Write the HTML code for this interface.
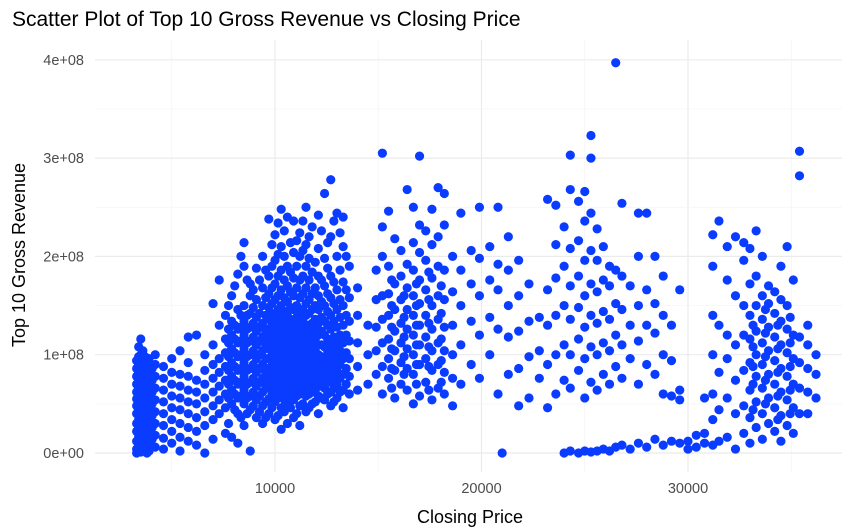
<!DOCTYPE html>
<html><head><meta charset="utf-8"><style>
body{margin:0;background:#fff;}
svg{display:block;font-family:"Liberation Sans",sans-serif;}
</style></head><body>
<svg id="chart" width="868" height="532">
<text x="12" y="26" font-size="21" fill="#000">Scatter Plot of Top 10 Gross Revenue vs Closing Price</text>
<g id="grid"></g>
<g id="axes"></g>
<g id="pts"></g>
<text x="470" y="523" font-size="18" text-anchor="middle" fill="#000">Closing Price</text>
<text transform="translate(25,255) rotate(-90)" font-size="18" text-anchor="middle" fill="#000">Top 10 Gross Revenue</text>
</svg>
<script>
// closing price in thousands, revenue in millions
const xTicks = [10000, 20000, 30000];
const yTicks = [0, 100, 200, 300, 400];
const yTickLabels = ["0e+00","1e+08","2e+08","3e+08","4e+08"];
const columns = [
[3.3,[0,4,12,22,30,40,48,55,62,70,78,86,94]],
[3.4,[2,8,17,26,34,44,52,59,66,74,82,90,98,108]],
[3.5,[1,8,18,26,35,44,52,60,68,76,84,92,100,116]],
[3.6,[5,12,20,29,38,46,54,62,70,78,86,94,104]],
[3.7,[3,14,24,33,42,50,58,66,74,82,90,98]],
[3.8,[0,7,16,26,36,45,53,61,69,77,85,93]],
[3.9,[2,10,20,30,40,48,56,64,72,80,88,96]],
[4.05,[14,26,38,50,62,74,86]],
[4.2,[6,18,30,42,54,66,78,90,100]],
[4.6,[4,15,28,40,52,64,76,88]],
[5.0,[10,22,34,46,58,70,82,96]],
[5.4,[2,16,30,44,56,68,80,104]],
[5.8,[12,26,40,52,64,78,92,118]],
[6.2,[8,22,36,50,62,74,120]],
[6.6,[0,28,42,56,70,84,100]],
[7.0,[14,34,48,62,76,90,110,152]],
[7.3,[40,54,68,82,96,130,176]],
[7.6,[20,46,60,74,88,102,116,140]],
[7.75,[30,56,70,84,98,112,126,150]],
[7.9,[16,50,64,78,92,106,120,134,160]],
[8.05,[44,60,74,88,102,116,130,170]],
[8.2,[10,40,56,70,84,98,112,126,146,182]],
[8.35,[36,58,72,86,100,114,128,140,200]],
[8.5,[28,50,64,78,92,106,120,134,150,190,214]],
[8.65,[40,56,70,84,98,112,126,140,176]],
[8.8,[2,44,58,72,86,100,114,128,142,160,172]],
[8.95,[48,62,76,90,104,118,132,148,166]],
[9.1,[36,54,68,82,96,110,124,138,156,188]],
[9.25,[42,58,72,86,100,114,128,142,176]],
[9.4,[30,48,62,76,90,104,118,132,150,168,200]],
[9.55,[36,52,68,82,96,110,124,140,158,186]],
[9.7,[40,55,66,76,86,96,106,116,126,136,148,162,180,238]],
[9.85,[46,60,70,80,90,100,110,120,130,140,152,168,190,212]],
[10.0,[34,52,62,72,82,92,102,112,122,132,142,156,172,196,222]],
[10.15,[38,56,66,76,86,96,106,116,126,136,146,160,180,202,234]],
[10.3,[24,46,58,68,78,88,98,108,118,128,138,150,166,186,210,248]],
[10.45,[42,54,64,74,84,94,104,114,124,134,144,158,176,200,226]],
[10.6,[30,50,60,70,80,90,100,110,120,130,140,154,170,190,240]],
[10.75,[46,56,66,76,86,96,106,116,126,136,148,164,184,214]],
[10.9,[36,54,64,74,84,94,104,114,124,134,146,160,178,204,236]],
[11.05,[40,58,68,78,88,98,108,118,128,138,150,168,190,216]],
[11.2,[28,48,60,70,80,90,100,110,120,130,142,158,176,200,224]],
[11.35,[50,64,74,84,94,104,114,124,134,146,162,180,206,236]],
[11.5,[42,58,68,78,88,98,108,118,128,140,152,168,190,212,250]],
[11.65,[46,60,70,80,90,100,110,120,130,142,156,176,198,220]],
[11.8,[50,62,72,82,92,102,112,122,132,146,162,184,230]],
[11.95,[52,64,74,84,94,104,114,124,136,150,168,194]],
[12.1,[40,58,70,80,90,100,110,120,132,146,160,180,208,242]],
[12.25,[56,68,78,88,98,110,124,138,154,176,226]],
[12.4,[54,66,76,86,96,108,120,134,150,170,198,264]],
[12.55,[60,72,82,92,104,116,130,144,162,188,214]],
[12.7,[48,62,74,86,98,112,126,140,158,180,220,278]],
[12.85,[52,66,78,90,104,118,134,152,174,236]],
[13.0,[56,70,84,98,112,128,146,166,200,244]],
[13.15,[62,76,90,104,120,138,156,186,224]],
[13.3,[46,64,80,96,112,130,150,174,210,240]],
[13.45,[70,86,102,120,140,166,200]],
[13.6,[60,78,96,114,134,158,190]],
[14.0,[64,88,112,140,168]],
[14.5,[70,100,130]],
[14.9,[80,104,128,156,186]],
[15.2,[60,88,112,136,160,200,230,305]],
[15.5,[76,96,116,140,162,190,246]],
[15.65,[66,86,106,128,150,176]],
[15.8,[56,84,104,124,146,172,218]],
[16.1,[70,92,112,132,156,180,206]],
[16.25,[80,98,118,138,160]],
[16.4,[64,86,106,126,146,168,192,268]],
[16.7,[50,80,100,120,140,160,186,214,250]],
[16.85,[70,90,110,130,150,172]],
[17.0,[58,90,110,130,152,176,204,232,302]],
[17.3,[72,96,118,140,166,196,226]],
[17.45,[64,88,108,132,156,184]],
[17.6,[54,84,104,126,150,178,212,248]],
[17.9,[66,90,112,136,160,190,220,270]],
[18.05,[72,94,116,142,170]],
[18.2,[60,82,104,128,156,186,232,264]],
[18.6,[48,76,100,130,164,200]],
[19.0,[70,110,150,186,244]],
[19.5,[90,134,172,206]],
[19.9,[76,120,160,198,250]],
[20.4,[100,138,176,210]],
[20.8,[60,126,166,192,250]],
[21.0,[0]],
[21.3,[80,118,150,186,220]],
[21.8,[48,86,124,160,196]],
[22.3,[56,98,134,172]],
[22.8,[76,104,138]],
[23.2,[46,90,130,166,258]],
[23.6,[60,100,140,178,212,252]],
[24.0,[0,74,110,150,190,230]],
[24.3,[2,66,100,136,170,208,268,303]],
[24.7,[0,84,116,148,180,216,256]],
[25.0,[2,56,96,128,160,196,236,266]],
[25.3,[1,72,108,140,172,206,244,300,323]],
[25.6,[2,64,100,132,164,196,228]],
[25.9,[4,80,112,144,176,210]],
[26.2,[2,70,104,136,170,190]],
[26.5,[6,88,120,152,186,397]],
[26.8,[8,76,110,146,180,254]],
[27.2,[4,96,130,170]],
[27.6,[10,70,114,150,200,244]],
[28.0,[6,90,130,166,244]],
[28.4,[14,80,122,152,200]],
[28.8,[8,60,100,140,180]],
[29.2,[12,58,94,130]],
[29.6,[10,54,64,166]],
[30.0,[4,12]],
[30.4,[6,18]],
[30.8,[10,20,56]],
[31.2,[8,34,60,100,140,190,222]],
[31.5,[12,44,82,130,236]],
[31.9,[16,56,96,120,176,210]],
[32.3,[4,40,74,110,160,220]],
[32.7,[20,48,84,120,150,196,214]],
[33.0,[10,36,64,92,116,140,172,208]],
[33.15,[44,70,88,108,130]],
[33.3,[26,52,78,100,124,150,180,226]],
[33.6,[14,40,66,90,112,136,160,200]],
[33.75,[50,74,98,122,146]],
[33.9,[30,56,80,104,128,152,170]],
[34.2,[22,46,70,94,118,142,164]],
[34.35,[34,58,82,106,130]],
[34.5,[12,38,62,86,110,134,156,190]],
[34.8,[28,54,78,102,126,150,210]],
[34.95,[40,64,88,112,138]],
[35.1,[20,46,70,96,120,176]],
[35.4,[40,66,92,118,282,307]],
[35.8,[40,62,86,110,130]],
[36.2,[56,80,100]]
];
const NS="http://www.w3.org/2000/svg";
const L=95,R=842,T=40,B=472;
function sx(v){return 275+(v-10000)*0.02065;}
function sy(v){return 453-v*0.983;}
const grid=document.getElementById('grid'), axes=document.getElementById('axes'), pts=document.getElementById('pts');
function line(p,x1,y1,x2,y2,c,w,name){const l=document.createElementNS(NS,'line');l.setAttribute('x1',x1);l.setAttribute('y1',y1);l.setAttribute('x2',x2);l.setAttribute('y2',y2);l.setAttribute('stroke',c);l.setAttribute('stroke-width',w);


p.appendChild(l);}
for(let v=5000;v<=35000;v+=5000){const major=v%10000===0;line(grid,sx(v),T,sx(v),B,major?'#ebebeb':'#f4f4f4',major?1.2:0.7,'x-gridline');}
for(let v=50;v<=400;v+=50){const major=v%100===0;line(grid,L,sy(v),R,sy(v),major?'#ebebeb':'#f4f4f4',major?1.2:0.7,'y-gridline');}
line(grid,L,sy(0),R,sy(0),'#ebebeb',1.2,'y-gridline');
function txt(x,y,s,anchor,name){const t=document.createElementNS(NS,'text');t.setAttribute('x',x);t.setAttribute('y',y);t.setAttribute('font-size','14.5');t.setAttribute('fill','#4d4d4d');t.setAttribute('text-anchor',anchor);t.textContent=s;


axes.appendChild(t);}
xTicks.forEach(v=>txt(sx(v),493,String(v),'middle','x-tick-label'));
yTicks.forEach((v,i)=>txt(84,sy(v)+5,yTickLabels[i],'end','y-tick-label'));
columns.forEach(([x,ys])=>ys.forEach(y=>{const c=document.createElementNS(NS,'circle');c.setAttribute('cx',sx(x*1000));c.setAttribute('cy',sy(y));c.setAttribute('r',4.6);c.setAttribute('fill','#0a3cff');


pts.appendChild(c);}));
</script>
</body></html>
